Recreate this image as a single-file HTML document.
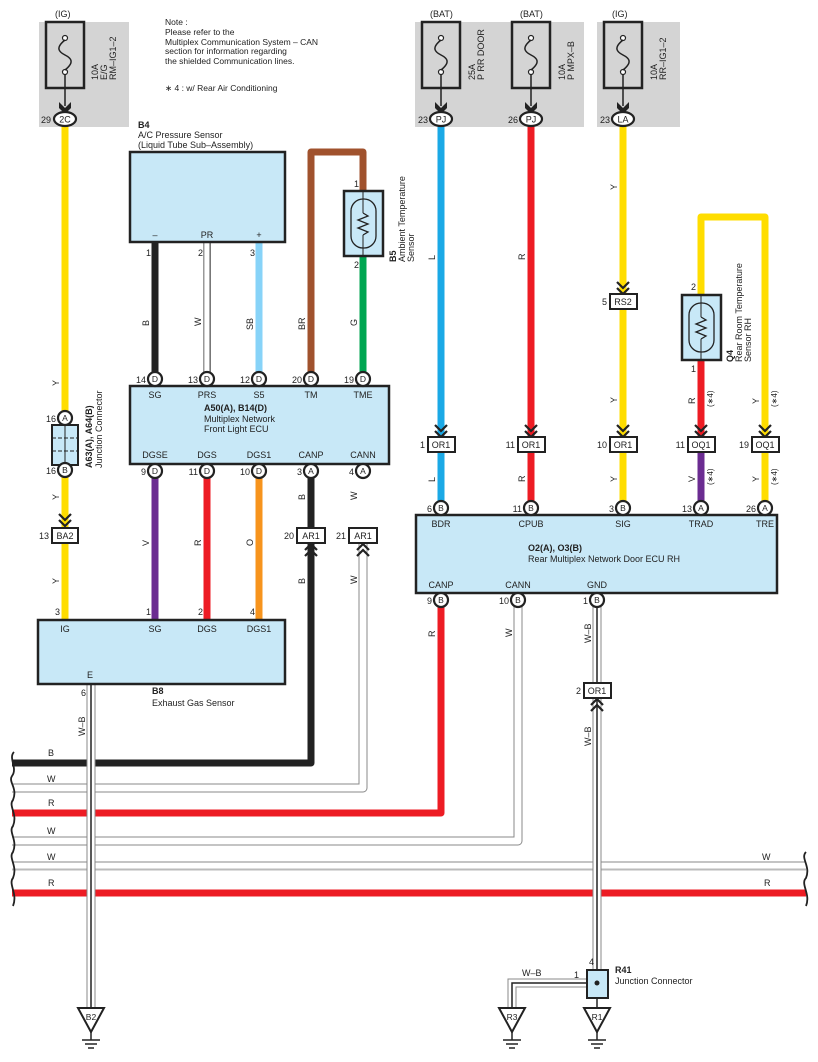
<!DOCTYPE html>
<html><head><meta charset="utf-8"><style>
html,body{margin:0;padding:0;background:#fff}
svg{display:block}
text{font-family:"Liberation Sans",sans-serif;fill:#222}
</style></head><body>
<svg width="818" height="1062" viewBox="0 0 818 1062" xmlns="http://www.w3.org/2000/svg">
<defs>
<g id="fuse">
<rect x="-19" y="0" width="38" height="66" fill="none" stroke="#222" stroke-width="2.5"/>
<circle cx="0" cy="16" r="2.5" fill="#fff" stroke="#222" stroke-width="1.2"/>
<circle cx="0" cy="50" r="2.5" fill="#fff" stroke="#222" stroke-width="1.2"/>
<path d="M0,18 C-10,26 -6,30 0,33 C6,36 10,40 0,48" fill="none" stroke="#222" stroke-width="1.5"/>
<line x1="0" y1="52" x2="0" y2="84" stroke="#222" stroke-width="1.5"/>
<path d="M-6,80 L0,86 L6,80 L6,86 L0,92 L-6,86 Z" fill="#222"/>
</g>
<g id="chevD"><path d="M-6,-12 L0,-6 L6,-12 M-6,-6 L0,0 L6,-6" fill="none" stroke="#222" stroke-width="2.2"/></g>
<g id="chevU"><path d="M-6,12 L0,6 L6,12 M-6,6 L0,0 L6,6" fill="none" stroke="#222" stroke-width="2.2"/></g>
<g id="gnd">
<path d="M-13,0 L13,0 L0,24 Z" fill="#fff" stroke="#222" stroke-width="2"/>
<line x1="0" y1="24" x2="0" y2="32" stroke="#222" stroke-width="1.5"/>
<line x1="-9" y1="32" x2="9" y2="32" stroke="#222" stroke-width="1.5"/>
<line x1="-6" y1="36" x2="6" y2="36" stroke="#222" stroke-width="1.5"/>
<line x1="-3" y1="40" x2="3" y2="40" stroke="#222" stroke-width="1.5"/>
</g>
<g id="therm">
<rect x="-19" y="0" width="39" height="65" fill="#c8e8f7" stroke="#222" stroke-width="2.5"/>
<rect x="-12" y="8" width="25" height="49" rx="12" fill="none" stroke="#222" stroke-width="1.3"/>
<line x1="0" y1="0" x2="0" y2="22" stroke="#222" stroke-width="1"/>
<line x1="0" y1="44" x2="0" y2="65" stroke="#222" stroke-width="1"/>
<path d="M0,22 L5,25 L-5,29 L5,33 L-5,37 L5,41 L0,44" fill="none" stroke="#222" stroke-width="1.3"/>
</g>
</defs>

<!-- gray fuse panels -->
<rect x="39" y="22" width="90" height="105" fill="#d4d4d4"/>
<rect x="415" y="22" width="169" height="105" fill="#d4d4d4"/>
<rect x="597" y="22" width="83" height="105" fill="#d4d4d4"/>

<text x="55" y="17" font-size="9">(IG)</text>
<text x="430" y="17" font-size="9">(BAT)</text>
<text x="520" y="17" font-size="9">(BAT)</text>
<text x="612" y="17" font-size="9">(IG)</text>

<use href="#fuse" x="65" y="22"/>
<use href="#fuse" x="441" y="22"/>
<use href="#fuse" x="531" y="22"/>
<use href="#fuse" x="623" y="22"/>

<g font-size="9">
<text transform="translate(98,80) rotate(-90)">10A</text>
<text transform="translate(107,80) rotate(-90)">E/G</text>
<text transform="translate(116,80) rotate(-90)">RM–IG1–2</text>
<text transform="translate(475,80) rotate(-90)">25A</text>
<text transform="translate(484,80) rotate(-90)">P RR DOOR</text>
<text transform="translate(565,80) rotate(-90)">10A</text>
<text transform="translate(574,80) rotate(-90)">P MPX–B</text>
<text transform="translate(657,80) rotate(-90)">10A</text>
<text transform="translate(666,80) rotate(-90)">RR–IG1–2</text>
</g>

<g font-size="8.5">
<text x="165" y="25">Note :</text>
<text x="165" y="35">Please refer to the</text>
<text x="165" y="45">Multiplex Communication System – CAN</text>
<text x="165" y="54">section for information regarding</text>
<text x="165" y="64">the shielded Communication lines.</text>
<text x="165" y="91">∗ 4 : w/ Rear Air Conditioning</text>
</g>

<!-- ===== bus lines bottom ===== -->
<!-- white pairs -->
<g fill="none" stroke-linejoin="round">
<!-- CANN W from 363 -->
<path d="M363,540 L363,788 L12,788" stroke="#888" stroke-width="9"/>
<path d="M363,540 L363,788 L12,788" stroke="#fff" stroke-width="7"/>
<!-- W from 518 -->
<path d="M518,600 L518,841 L12,841" stroke="#888" stroke-width="9"/>
<path d="M518,600 L518,841 L12,841" stroke="#fff" stroke-width="7"/>
<!-- W full -->
<line x1="12" y1="866" x2="806" y2="866" stroke="#888" stroke-width="9"/>
<line x1="12" y1="869" x2="806" y2="869" stroke="#bbb" stroke-width="3"/>
<line x1="12" y1="865.5" x2="806" y2="865.5" stroke="#fff" stroke-width="6"/>
<!-- B from 311 -->
<path d="M311,478 L311,763 L12,763" stroke="#222" stroke-width="7"/>
<!-- R from 441 -->
<path d="M441,600 L441,813 L12,813" stroke="#ed1c24" stroke-width="7"/>
<line x1="12" y1="893" x2="806" y2="893" stroke="#ed1c24" stroke-width="7"/>
</g>

<g font-size="9">
<text x="48" y="756">B</text><text x="47" y="782">W</text><text x="48" y="806">R</text>
<text x="47" y="834">W</text><text x="47" y="860">W</text><text x="48" y="886">R</text>
<text x="762" y="860">W</text><text x="764" y="886">R</text>
</g>
<!-- wave breaks -->
<g fill="none" stroke="#222" stroke-width="1.8">
<path d="M14,752 C8,758 18,768 12,776 C8,782 18,788 13,800 C8,806 18,814 13,826 C8,832 18,840 13,852 C8,858 18,866 13,878 C8,884 18,894 13,906"/>
<path d="M806,852 C800,858 811,866 806,878 C800,884 811,894 806,906"/>
</g>

<!-- ===== left yellow wire ===== -->
<line x1="65" y1="125" x2="65" y2="620" stroke="#ffdd00" stroke-width="7"/>
<ellipse cx="65" cy="119" rx="11" ry="7" fill="#fff" stroke="#222" stroke-width="2.2"/>
<text x="65" y="122.5" font-size="9" text-anchor="middle">2C</text>
<text x="41" y="123" font-size="9">29</text>

<!-- junction A63 -->
<rect x="52" y="425" width="26" height="40" fill="#c8e8f7" stroke="#222" stroke-width="2"/>
<g stroke="#222" stroke-width="1"><line x1="65" y1="425" x2="65" y2="465"/><line x1="52" y1="438" x2="78" y2="438" stroke-dasharray="4,2"/><line x1="52" y1="451" x2="78" y2="451" stroke-dasharray="4,2"/></g>
<text transform="translate(92,468) rotate(-90)" font-size="9" font-weight="bold">A63(A), A64(B)</text>
<text transform="translate(102,468) rotate(-90)" font-size="9">Junction Connector</text>

<!-- W-B wire from B8 E -->
<line x1="91" y1="684" x2="91" y2="1008" stroke="#888" stroke-width="9"/>
<line x1="91" y1="684" x2="91" y2="1008" stroke="#fff" stroke-width="7"/>
<line x1="91" y1="684" x2="91" y2="1008" stroke="#222" stroke-width="1.5"/>

<!-- B4 sensor -->
<text x="138" y="128" font-size="9" font-weight="bold">B4</text>
<text x="138" y="138" font-size="9">A/C Pressure Sensor</text>
<text x="138" y="148" font-size="9">(Liquid Tube Sub–Assembly)</text>
<line x1="155" y1="242" x2="155" y2="378" stroke="#222" stroke-width="7"/>
<line x1="207" y1="242" x2="207" y2="378" stroke="#999" stroke-width="8"/>
<line x1="207" y1="242" x2="207" y2="378" stroke="#fff" stroke-width="5"/>
<line x1="210" y1="242" x2="210" y2="378" stroke="#555" stroke-width="1"/>
<line x1="259" y1="242" x2="259" y2="378" stroke="#87d3f8" stroke-width="7"/>
<rect x="130" y="152" width="155" height="90" fill="#c8e8f7" stroke="#222" stroke-width="2.5"/>
<g font-size="9" text-anchor="middle"><text x="155" y="238">–</text><text x="207" y="238">PR</text><text x="259" y="238">+</text></g>
<g font-size="9"><text x="146" y="256">1</text><text x="198" y="256">2</text><text x="250" y="256">3</text></g>

<!-- brown + green -->
<path d="M311,378 L311,152 L363,152 L363,192" fill="none" stroke="#a0522d" stroke-width="7" stroke-linejoin="round"/>
<line x1="363" y1="256" x2="363" y2="378" stroke="#00a651" stroke-width="7"/>
<use href="#therm" x="363" y="191"/>
<text x="354" y="187" font-size="9">1</text><text x="354" y="268" font-size="9">2</text>
<text transform="translate(396,262) rotate(-90)" font-size="9" font-weight="bold">B5</text>
<text transform="translate(405,262) rotate(-90)" font-size="9">Ambient Temperature</text>
<text transform="translate(414,262) rotate(-90)" font-size="9">Sensor</text>

<g font-size="9">
<text transform="translate(149,326) rotate(-90)">B</text>
<text transform="translate(201,326) rotate(-90)">W</text>
<text transform="translate(253,330) rotate(-90)">SB</text>
<text transform="translate(305,330) rotate(-90)">BR</text>
<text transform="translate(357,326) rotate(-90)">G</text>
</g>

<!-- lower colored wires from ECU A50 to B8 -->
<line x1="155" y1="470" x2="155" y2="620" stroke="#6b2c91" stroke-width="7"/>
<line x1="207" y1="470" x2="207" y2="620" stroke="#ed1c24" stroke-width="7"/>
<line x1="259" y1="470" x2="259" y2="620" stroke="#f7941d" stroke-width="7"/>
<g font-size="9">
<text transform="translate(59,386) rotate(-90)">Y</text>
<text transform="translate(59,500) rotate(-90)">Y</text>
<text transform="translate(59,584) rotate(-90)">Y</text>
<text transform="translate(149,546) rotate(-90)">V</text>
<text transform="translate(201,546) rotate(-90)">R</text>
<text transform="translate(253,546) rotate(-90)">O</text>
<text transform="translate(305,500) rotate(-90)">B</text>
<text transform="translate(305,584) rotate(-90)">B</text>
<text transform="translate(357,500) rotate(-90)">W</text>
<text transform="translate(357,584) rotate(-90)">W</text>
<text transform="translate(85,736) rotate(-90)">W–B</text>
</g>

<!-- A50 ECU -->
<rect x="130" y="386" width="259" height="78" fill="#c8e8f7" stroke="#222" stroke-width="2.5"/>
<g font-size="9" text-anchor="middle">
<text x="155" y="398">SG</text><text x="207" y="398">PRS</text><text x="259" y="398">S5</text><text x="311" y="398">TM</text><text x="363" y="398">TME</text>
<text x="155" y="458">DGSE</text><text x="207" y="458">DGS</text><text x="259" y="458">DGS1</text><text x="311" y="458">CANP</text><text x="363" y="458">CANN</text>
</g>
<text x="204" y="411" font-size="9" font-weight="bold">A50(A), B14(D)</text>
<text x="204" y="422" font-size="9">Multiplex Network</text>
<text x="204" y="432" font-size="9">Front Light ECU</text>

<!-- B8 -->
<rect x="38" y="620" width="247" height="64" fill="#c8e8f7" stroke="#222" stroke-width="2.5"/>
<g font-size="9" text-anchor="middle"><text x="65" y="632">IG</text><text x="155" y="632">SG</text><text x="207" y="632">DGS</text><text x="259" y="632">DGS1</text><text x="90" y="678">E</text></g>
<g font-size="9"><text x="55" y="615">3</text><text x="146" y="615">1</text><text x="198" y="615">2</text><text x="250" y="615">4</text><text x="81" y="696">6</text></g>
<text x="152" y="694" font-size="9" font-weight="bold">B8</text>
<text x="152" y="706" font-size="9">Exhaust Gas Sensor</text>

<!-- ===== right side wires ===== -->
<line x1="441" y1="125" x2="441" y2="508" stroke="#1ba9e6" stroke-width="7"/>
<line x1="531" y1="125" x2="531" y2="508" stroke="#ed1c24" stroke-width="7"/>
<line x1="623" y1="125" x2="623" y2="508" stroke="#ffdd00" stroke-width="7"/>
<path d="M701,295 L701,217 L765,217 L765,508" fill="none" stroke="#ffdd00" stroke-width="7" stroke-linejoin="round"/>
<line x1="701" y1="360" x2="701" y2="444" stroke="#ed1c24" stroke-width="7"/>
<line x1="701" y1="444" x2="701" y2="508" stroke="#6b2c91" stroke-width="7"/>
<use href="#therm" x="701" y="295"/>
<text x="691" y="290" font-size="9">2</text><text x="691" y="372" font-size="9">1</text>
<text transform="translate(733,362) rotate(-90)" font-size="9" font-weight="bold">Q4</text>
<text transform="translate(742,362) rotate(-90)" font-size="9">Rear Room Temperature</text>
<text transform="translate(751,362) rotate(-90)" font-size="9">Sensor RH</text>

<g font-size="9">
<text transform="translate(435,260) rotate(-90)">L</text>
<text transform="translate(435,482) rotate(-90)">L</text>
<text transform="translate(525,260) rotate(-90)">R</text>
<text transform="translate(525,482) rotate(-90)">R</text>
<text transform="translate(617,190) rotate(-90)">Y</text>
<text transform="translate(617,403) rotate(-90)">Y</text>
<text transform="translate(617,482) rotate(-90)">Y</text>
<text transform="translate(695,404) rotate(-90)">R</text>
<text transform="translate(695,482) rotate(-90)">V</text>
<text transform="translate(759,404) rotate(-90)">Y</text>
<text transform="translate(759,482) rotate(-90)">Y</text>
<text transform="translate(713,407) rotate(-90)" font-size="8">(∗4)</text>
<text transform="translate(713,485) rotate(-90)" font-size="8">(∗4)</text>
<text transform="translate(777,407) rotate(-90)" font-size="8">(∗4)</text>
<text transform="translate(777,485) rotate(-90)" font-size="8">(∗4)</text>
<text transform="translate(435,637) rotate(-90)">R</text>
<text transform="translate(512,637) rotate(-90)">W</text>
<text transform="translate(591,643) rotate(-90)">W–B</text>
<text transform="translate(591,746) rotate(-90)">W–B</text>
</g>

<!-- GND W-B wire -->
<line x1="597" y1="600" x2="597" y2="972" stroke="#888" stroke-width="9"/>
<line x1="597" y1="600" x2="597" y2="972" stroke="#fff" stroke-width="7"/>
<line x1="597" y1="600" x2="597" y2="972" stroke="#222" stroke-width="1.5"/>
<path d="M597,983 L512,983 L512,1008" fill="none" stroke="#888" stroke-width="9"/>
<path d="M597,983 L512,983 L512,1008" fill="none" stroke="#fff" stroke-width="7"/>
<path d="M597,983 L512,983 L512,1008" fill="none" stroke="#222" stroke-width="1.5"/>
<line x1="597" y1="998" x2="597" y2="1008" stroke="#222" stroke-width="1.5"/>
<rect x="587" y="970" width="21" height="28" fill="#c8e8f7" stroke="#222" stroke-width="2"/>
<circle cx="597" cy="983" r="2.5" fill="#222"/>
<g font-size="9"><text x="589" y="965">4</text><text x="574" y="978">1</text><text x="522" y="976">W–B</text></g>
<text x="615" y="973" font-size="9" font-weight="bold">R41</text>
<text x="615" y="984" font-size="9">Junction Connector</text>

<!-- O2 ECU -->
<rect x="416" y="515" width="361" height="78" fill="#c8e8f7" stroke="#222" stroke-width="2.5"/>
<g font-size="9" text-anchor="middle">
<text x="441" y="527">BDR</text><text x="531" y="527">CPUB</text><text x="623" y="527">SIG</text><text x="701" y="527">TRAD</text><text x="765" y="527">TRE</text>
<text x="441" y="588">CANP</text><text x="518" y="588">CANN</text><text x="597" y="588">GND</text>
</g>
<text x="528" y="551" font-size="9" font-weight="bold">O2(A), O3(B)</text>
<text x="528" y="562" font-size="9">Rear Multiplex Network Door ECU RH</text>

<!-- chevrons -->
<use href="#chevD" x="65" y="526"/>
<use href="#chevU" x="311" y="544"/>
<use href="#chevU" x="363" y="544"/>
<use href="#chevD" x="623" y="294"/>
<use href="#chevD" x="441" y="437"/>
<use href="#chevD" x="531" y="437"/>
<use href="#chevD" x="623" y="437"/>
<use href="#chevD" x="701" y="437"/>
<use href="#chevD" x="765" y="437"/>
<use href="#chevU" x="597" y="699"/>

<!-- rect connectors -->
<g fill="#fff" stroke="#222" stroke-width="2">
<rect x="52" y="528" width="26" height="15"/>
<rect x="297" y="528" width="28" height="15"/>
<rect x="349" y="528" width="28" height="15"/>
<rect x="610" y="294" width="27" height="15"/>
<rect x="428" y="437" width="27" height="15"/>
<rect x="518" y="437" width="27" height="15"/>
<rect x="610" y="437" width="27" height="15"/>
<rect x="688" y="437" width="27" height="15"/>
<rect x="752" y="437" width="27" height="15"/>
<rect x="584" y="683" width="27" height="15"/>
</g>
<g font-size="9" text-anchor="middle">
<text x="65" y="539">BA2</text><text x="311" y="539">AR1</text><text x="363" y="539">AR1</text>
<text x="623" y="305">RS2</text>
<text x="441" y="448">OR1</text><text x="531" y="448">OR1</text><text x="623" y="448">OR1</text>
<text x="701" y="448">OQ1</text><text x="765" y="448">OQ1</text><text x="597" y="694">OR1</text>
</g>
<g font-size="9" text-anchor="end">
<text x="49" y="539">13</text><text x="294" y="539">20</text><text x="346" y="539">21</text>
<text x="607" y="305">5</text>
<text x="425" y="448">1</text><text x="515" y="448">11</text><text x="607" y="448">10</text>
<text x="685" y="448">11</text><text x="749" y="448">19</text><text x="581" y="694">2</text>
</g>

<!-- circle connectors -->
<g fill="#fff" stroke="#222" stroke-width="2.2">
<circle cx="65" cy="418" r="7"/><circle cx="65" cy="470" r="7"/>
<circle cx="155" cy="379" r="7"/><circle cx="207" cy="379" r="7"/><circle cx="259" cy="379" r="7"/><circle cx="311" cy="379" r="7"/><circle cx="363" cy="379" r="7"/>
<circle cx="155" cy="471" r="7"/><circle cx="207" cy="471" r="7"/><circle cx="259" cy="471" r="7"/><circle cx="311" cy="471" r="7"/><circle cx="363" cy="471" r="7"/>
<circle cx="441" cy="508" r="7"/><circle cx="531" cy="508" r="7"/><circle cx="623" cy="508" r="7"/><circle cx="701" cy="508" r="7"/><circle cx="765" cy="508" r="7"/>
<circle cx="441" cy="600" r="7"/><circle cx="518" cy="600" r="7"/><circle cx="597" cy="600" r="7"/>
</g>
<g font-size="8.5" text-anchor="middle">
<text x="65" y="421">A</text><text x="65" y="473">B</text>
<text x="155" y="382">D</text><text x="207" y="382">D</text><text x="259" y="382">D</text><text x="311" y="382">D</text><text x="363" y="382">D</text>
<text x="155" y="474">D</text><text x="207" y="474">D</text><text x="259" y="474">D</text><text x="311" y="474">A</text><text x="363" y="474">A</text>
<text x="441" y="511">B</text><text x="531" y="511">B</text><text x="623" y="511">B</text><text x="701" y="511">A</text><text x="765" y="511">A</text>
<text x="441" y="603">B</text><text x="518" y="603">B</text><text x="597" y="603">B</text>
</g>
<g font-size="9" text-anchor="end">
<text x="56" y="422">16</text><text x="56" y="474">16</text>
<text x="146" y="383">14</text><text x="198" y="383">13</text><text x="250" y="383">12</text><text x="302" y="383">20</text><text x="354" y="383">19</text>
<text x="146" y="475">9</text><text x="198" y="475">11</text><text x="250" y="475">10</text><text x="302" y="475">3</text><text x="354" y="475">4</text>
<text x="432" y="512">6</text><text x="522" y="512">11</text><text x="614" y="512">3</text><text x="692" y="512">13</text><text x="756" y="512">26</text>
<text x="432" y="604">9</text><text x="509" y="604">10</text><text x="588" y="604">1</text>
</g>

<!-- top fuse connectors right -->
<g fill="#fff" stroke="#222" stroke-width="2.2">
<ellipse cx="441" cy="119" rx="11" ry="7"/><ellipse cx="531" cy="119" rx="11" ry="7"/><ellipse cx="623" cy="119" rx="11" ry="7"/>
</g>
<g font-size="9" text-anchor="middle"><text x="441" y="122.5">PJ</text><text x="531" y="122.5">PJ</text><text x="623" y="122.5">LA</text></g>
<g font-size="9" text-anchor="end"><text x="428" y="123">23</text><text x="518" y="123">26</text><text x="610" y="123">23</text></g>

<!-- grounds -->
<use href="#gnd" x="91" y="1008"/>
<use href="#gnd" x="512" y="1008"/>
<use href="#gnd" x="597" y="1008"/>
<g font-size="8.5" text-anchor="middle"><text x="91" y="1020">B2</text><text x="512" y="1020">R3</text><text x="597" y="1020">R1</text></g>
</svg>
</body></html>
